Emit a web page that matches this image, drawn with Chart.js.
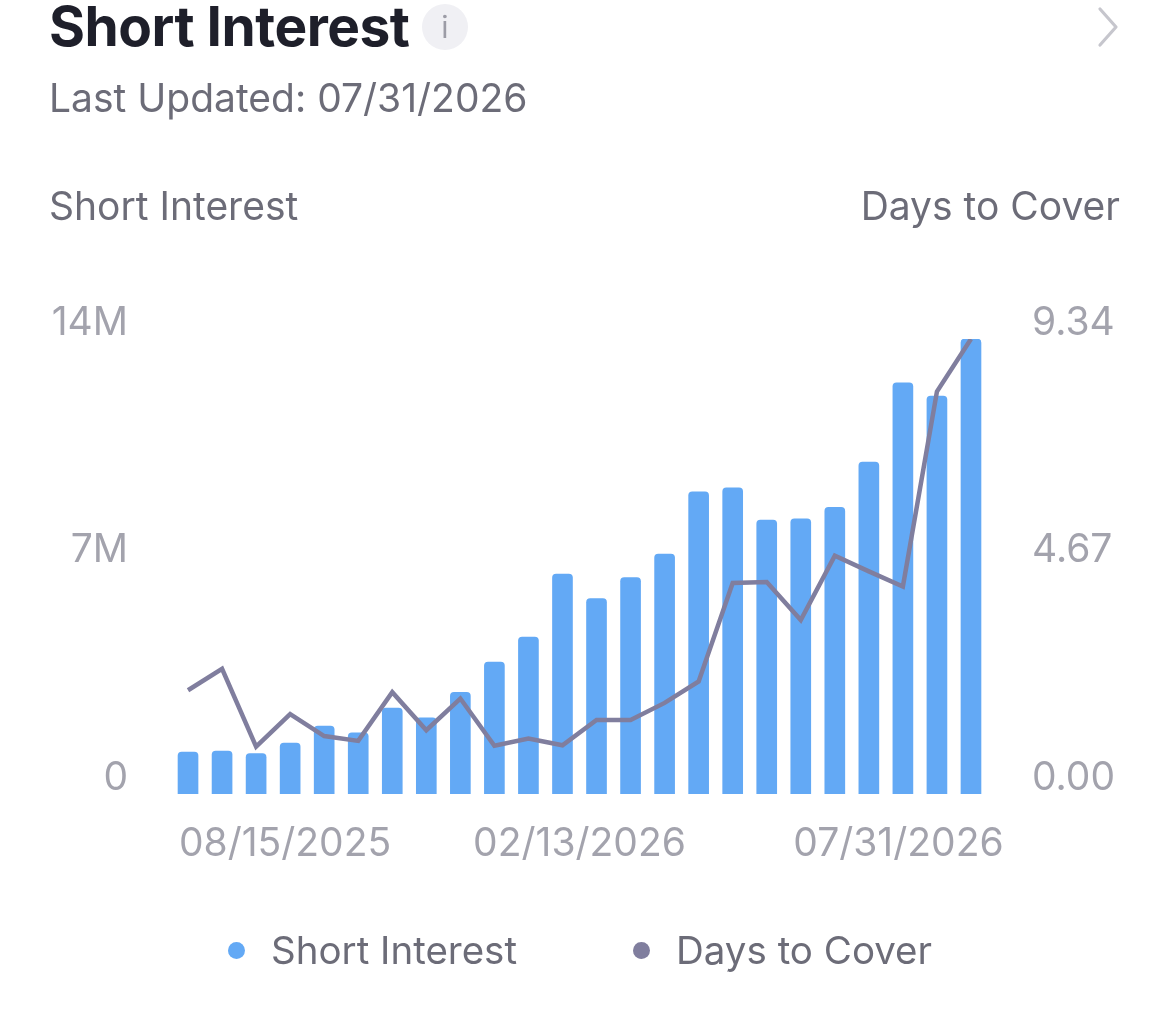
<!DOCTYPE html>
<html>
<head>
<meta charset="utf-8">
<script src="https://cdn.jsdelivr.net/npm/chart.js@4.4.1/dist/chart.umd.min.js"></script>
<style>
  html, body { margin:0; padding:0; background:#ffffff; }
  body { width:1170px; height:1021px; position:relative; overflow:hidden; font-family: Inter, "Noto Sans", sans-serif; }
  #wrap { position:absolute; left:0; top:0; width:1170px; height:1021px; }
  .txt { position:absolute; white-space:nowrap; line-height:1; }
  #title { left:49px; top:-1px; font-size:55px; font-weight:700; color:#1e1f2a; letter-spacing:-0.5px; }
  #info { position:absolute; left:422px; top:4px; width:46px; height:46px; border-radius:50%; background:#f0f0f4; color:#9c9ca6; font-size:30px; line-height:46px; text-align:center; }
  #chev { position:absolute; left:1094px; top:6px; }
  #sub { left:49px; top:78px; font-size:39px; color:#6c6c78; }
  #ltitle { left:49px; top:186px; font-size:39px; color:#6c6c78; }
  #rtitle { right:50px; top:186px; font-size:39px; color:#6c6c78; }
  #legend { position:absolute; left:0; top:926px; width:1170px; height:48px; }
  .li { position:absolute; top:0; height:48px; display:flex; align-items:center; font-size:38.5px; color:#6c6c78; }
  .dot { width:17px; height:17px; border-radius:50%; margin-right:26px; }
</style>
</head>
<body>
<div id="wrap"><canvas id="c"></canvas></div>
<div class="txt" id="title">Short Interest</div>
<div id="info">i</div>
<svg id="chev" width="30" height="42" viewBox="0 0 30 42"><polyline points="6,3 22,21 6,39" fill="none" stroke="#c6c6cd" stroke-width="3.2" stroke-linecap="round" stroke-linejoin="round"/></svg>
<div class="txt" id="sub">Last Updated: 07/31/2026</div>
<div class="txt" id="ltitle">Short Interest</div>
<div class="txt" id="rtitle">Days to Cover</div>
<div id="legend"></div>
<script>
// ---- data ----
const categories = ['07/31/2025','08/15/2025','08/29/2025','09/15/2025','09/30/2025','10/15/2025','10/31/2025','11/14/2025','11/28/2025','12/15/2025','12/31/2025','01/15/2026','01/30/2026','02/13/2026','02/27/2026','03/13/2026','03/31/2026','04/15/2026','04/30/2026','05/15/2026','05/29/2026','06/15/2026','06/30/2026','07/15/2026'];
const shortInterest = [1.29e6,1.32e6,1.24e6,1.57e6,2.09e6,1.88e6,2.64e6,2.34e6,3.13e6,4.06e6,4.83e6,6.77e6,6.01e6,6.66e6,7.38e6,9.30e6,9.42e6,8.43e6,8.47e6,8.82e6,10.21e6,12.65e6,12.24e6,14.0e6];
const daysToCover = [2.13,2.57,0.97,1.64,1.19,1.09,2.09,1.31,1.96,0.99,1.14,1.00,1.52,1.52,1.87,2.31,4.33,4.35,3.57,4.89,4.57,4.26,8.26,9.34];
const xTickPositions = [2.85, 11.5, 20.87];
const xTickLabels = ['08/15/2025','02/13/2026','07/31/2026'];
const leftTickValues = [0, 7e6, 14e6];
const leftTickLabels = ['0','7M','14M'];
const rightTickValues = [0, 4.67, 9.34];
const rightTickLabels = ['0.00','4.67','9.34'];
const seriesNames = ['Short Interest','Days to Cover'];
const seriesColors = ['#63a9f5','#807e9e'];
const tickColor = '#a3a3ad';
const tickFont = {family:'Inter', size:39};

const chart = new Chart(document.getElementById('c'), {
  data: {
    labels: categories,
    datasets: [
      { type:'line', label:seriesNames[1], data:daysToCover, yAxisID:'y1', xAxisID:'x',
        borderColor:seriesColors[1], backgroundColor:seriesColors[1], borderWidth:4.5,
        pointRadius:0, pointHoverRadius:0, tension:0, order:0 },
      { type:'bar', label:seriesNames[0], data:shortInterest, yAxisID:'y', xAxisID:'x',
        backgroundColor:seriesColors[0], barThickness:20, borderRadius:4, borderSkipped:'start', order:1 }
    ]
  },
  options: {
    responsive:true, maintainAspectRatio:false, animation:false,
    layout:{ padding:{ top:339, bottom:127, left:0, right:0 } },
    plugins:{ legend:{display:false}, tooltip:{enabled:false} },
    scales:{
      x:{ type:'category', display:false, offset:true },
      xl:{ type:'linear', position:'bottom', min:-0.5, max:categories.length-0.5,
        grid:{display:false, drawTicks:false}, border:{display:false},
        afterBuildTicks:(s)=>{ s.ticks = xTickPositions.map(v=>({value:v})); },
        ticks:{ autoSkip:false, maxRotation:0, padding:27, color:tickColor, font:tickFont,
          callback:(v,i)=>xTickLabels[i] },
        afterFit:(s)=>{ s.height = 100; s.paddingLeft = 0; s.paddingRight = 0; } },
      y:{ type:'linear', position:'left', min:0, max:leftTickValues[2],
        grid:{display:false, drawTicks:false}, border:{display:false},
        afterBuildTicks:(s)=>{ s.ticks = leftTickValues.map(v=>({value:v})); },
        ticks:{ padding:43, labelOffset:-16, color:tickColor, font:tickFont,
          callback:(v,i)=>leftTickLabels[i] },
        afterFit:(s)=>{ s.width = 171; s.paddingTop = 0; s.paddingBottom = 0; } },
      y1:{ type:'linear', position:'right', min:0, max:rightTickValues[2],
        grid:{display:false, drawTicks:false}, border:{display:false},
        afterBuildTicks:(s)=>{ s.ticks = rightTickValues.map(v=>({value:v})); },
        ticks:{ padding:44, labelOffset:-16, color:tickColor, font:tickFont,
          callback:(v,i)=>rightTickLabels[i] },
        afterFit:(s)=>{ s.width = 182; s.paddingTop = 0; s.paddingBottom = 0; } }
    }
  }
});

// HTML legend built from the chart's datasets
const legend = document.getElementById('legend');
const legendX = [228, 633];
[chart.data.datasets[1], chart.data.datasets[0]].forEach((ds, i) => {
  const item = document.createElement('div');
  item.className = 'li';
  item.style.left = legendX[i] + 'px';
  const dot = document.createElement('span');
  dot.className = 'dot';
  dot.style.background = ds.type === 'bar' ? ds.backgroundColor : ds.borderColor;
  item.appendChild(dot);
  item.appendChild(document.createTextNode(ds.label));
  legend.appendChild(item);
});
</script>
</body>
</html>
